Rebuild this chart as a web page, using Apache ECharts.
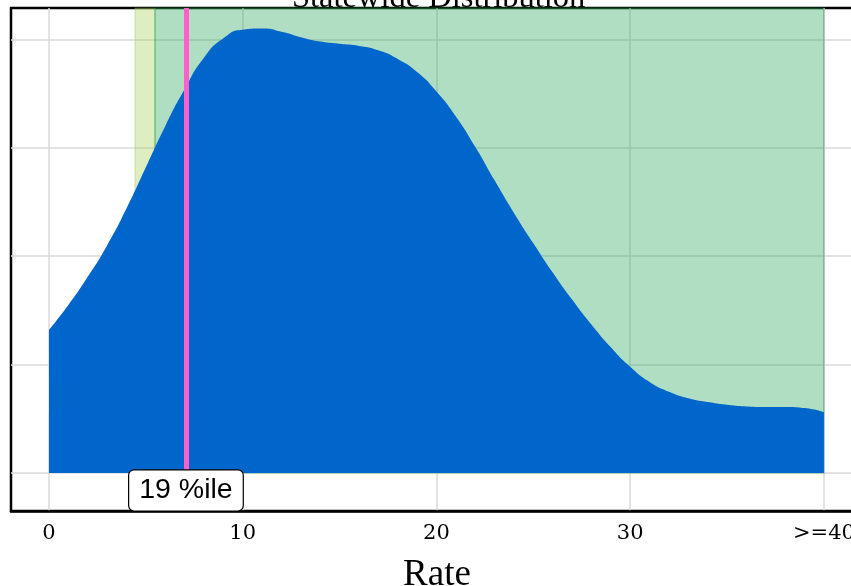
<!DOCTYPE html>
<html><head><meta charset="utf-8">
<script src="https://cdn.jsdelivr.net/npm/echarts@6/dist/echarts.min.js"></script>
<style>html,body{margin:0;padding:0;background:#fff}#c{width:851px;height:586px}</style>
</head><body><div id="c"></div>
<script>
const titleText = 'Statewide Distribution';
const axisName = 'Rate';
const rates = [0,1,2,3,4,5,6,7,8,9,10,11,12,13,14,15,16,17,18,19,20,21,22,23,24,25,26,27,28,29,30,31,32,33,34,35,36,37,38,39,40];
const density = [1.32,1.55,1.81,2.10,2.44,2.82,3.20,3.54,3.83,4.01,4.09,4.10,4.07,4.02,3.98,3.96,3.94,3.90,3.82,3.70,3.52,3.29,3.01,2.70,2.40,2.12,1.85,1.60,1.37,1.16,0.98,0.84,0.75,0.69,0.655,0.63,0.615,0.61,0.61,0.60,0.56];
const xTicks = [0,10,20,30,40];
const xTickLabels = ['0','10','20','30','>=40'];
const yTicks = [0,1,2,3,4];
const bandYellow = [4.44, 5.47];
const bandGreen = [5.47, 40];
const percentileRate = 7.07;
const percentileLabel = '19 %ile';
const labelLevel = -0.16;

const chart = echarts.init(document.getElementById('c'), null, {renderer:'canvas'});
const data = rates.map((r,i)=>[r, density[i]]);
chart.setOption({
  animation:false,
  title:{text:titleText, left:287, top:-23, textStyle:{fontFamily:'Liberation Serif', fontSize:32.5, fontWeight:'normal', color:'#000'}},
  grid:{left:11, right:-2, top:8, bottom:75, outerBoundsMode:'none', containLabel:false, show:true, borderColor:'#000', borderWidth:2.5, backgroundColor:'#fff'},
  xAxis:{type:'value', min:-1.96, max:41.5,
    name:axisName, nameLocation:'middle', nameGap:46,
    nameTextStyle:{fontFamily:'Liberation Serif', fontSize:37, color:'#000', padding:[0,0,0,10]},
    axisLine:{show:true, onZero:false, lineStyle:{color:'#000', width:2.5}},
    axisTick:{show:false, customValues:xTicks},
    axisLabel:{customValues:xTicks, margin:12, fontFamily:'DejaVu Serif', fontSize:21, color:'#000',
      formatter:v=>xTickLabels[xTicks.indexOf(v)] ?? String(v)},
    splitLine:{show:true, lineStyle:{color:'#dadada', width:1.5}}},
  yAxis:{type:'value', min:-0.35, max:4.29,
    axisLine:{show:false}, axisLabel:{show:false},
    axisTick:{show:false, customValues:yTicks},
    splitLine:{show:true, lineStyle:{color:'#dadada', width:1.5}}},
  series:[
    {type:'line', z:1, data:[], silent:true,
      markArea:{silent:true, data:[
        [{xAxis:bandYellow[0], yAxis:0, itemStyle:{color:'rgba(170,210,90,0.38)', borderColor:'rgba(120,180,60,0.35)', borderWidth:1}},{xAxis:bandYellow[1], yAxis:4.29}],
        [{xAxis:bandGreen[0], yAxis:0, itemStyle:{color:'rgba(30,160,80,0.35)', borderColor:'rgba(30,140,60,0.35)', borderWidth:1.5}},{xAxis:bandGreen[1], yAxis:4.29}]
      ]}},
    {type:'line', z:2, data:data, smooth:0.6, symbol:'none', silent:true,
      lineStyle:{width:0}, areaStyle:{color:'#0066cc', opacity:1}},
    {type:'line', z:3, data:[], silent:true,
      markLine:{silent:true, symbol:'none', label:{show:false},
        lineStyle:{color:'#ff5fc9', width:5, type:'solid'},
        data:[{xAxis:percentileRate}]},
      markPoint:{silent:true, symbol:'rect', symbolSize:0,
        label:{show:true, position:'inside', formatter:percentileLabel, fontFamily:'Liberation Sans', fontSize:28.5, color:'#000',
          backgroundColor:'#fff', borderColor:'#000', borderWidth:1.2, borderRadius:5, padding:[6,10,5,10]},
        data:[{coord:[percentileRate, labelLevel]}]}}
  ]
});
</script></body></html>
